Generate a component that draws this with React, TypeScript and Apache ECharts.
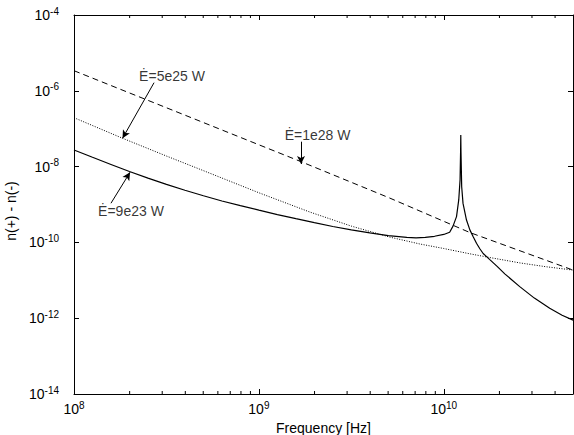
import React, { useEffect, useRef } from "react";
import * as echarts from "echarts";

const FONT = "'Liberation Sans', Arial, Helvetica, sans-serif";

const X_MIN = 1e8;
const X_MAX = 5e10;
const Y_MIN = 1e-14;
const Y_MAX = 1e-4;

// Solid curve: E-dot = 9e23 W (frequency in Hz)
const solidFreq = [
  1e8, 1.259e8, 1.585e8, 1.995e8, 2.512e8, 3.162e8, 3.981e8, 5.012e8, 6.31e8, 7.943e8,
  1e9, 1.259e9, 1.585e9, 1.995e9, 2.512e9, 3.162e9, 3.981e9, 5.012e9, 6.31e9, 7.079e9,
  7.943e9, 8.913e9, 1e10, 1.076e10, 1.122e10, 1.172e10, 1.205e10, 1.225e10, 1.233e10,
  1.236e10, 1.239e10, 1.25e10, 1.271e10, 1.327e10, 1.384e10, 1.445e10, 1.503e10, 1.567e10, 1.633e10, 1.774e10,
  1.95e10, 2.138e10, 2.576e10, 3.09e10, 3.741e10, 4.365e10, 5e10,
];
const solidValues = [
  2.75e-8, 1.76e-8, 1.14e-8, 7.41e-9, 4.95e-9, 3.39e-9, 2.37e-9, 1.7e-9, 1.24e-9, 9.33e-10,
  7.08e-10, 5.43e-10, 4.22e-10, 3.31e-10, 2.63e-10, 2.14e-10, 1.78e-10, 1.51e-10, 1.35e-10, 1.32e-10,
  1.35e-10, 1.45e-10, 1.62e-10, 1.86e-10, 2.69e-10, 4.79e-10, 1.32e-9, 4.47e-9, 2.5e-8,
  6.8e-8, 2.5e-8, 2.95e-9, 1.07e-9, 3.89e-10, 2.14e-10, 1.38e-10, 9.5e-11, 6.8e-11, 5.1e-11, 3.5e-11,
  2.3e-11, 1.48e-11, 6.8e-12, 3.39e-12, 1.82e-12, 1.2e-12, 8.9e-13,
];

// Dotted curve: E-dot = 5e25 W
const dottedFreq = [1e8, 1.83e8, 3.162e8, 4.8e8, 1e9, 1.89e9, 3.162e9, 5.1e9, 7.41e9, 1e10, 1.384e10, 1.778e10, 2.576e10, 3.548e10, 5e10];
const dottedValues = [1.95e-7, 5.6e-8, 1.9e-8, 8.5e-9, 2.04e-9, 6.3e-10, 2.69e-10, 1.38e-10, 9.1e-11, 6.9e-11, 5.0e-11, 3.98e-11, 2.88e-11, 2.29e-11, 1.86e-11];

// Dashed curve: E-dot = 1e28 W
const dashedFreq = [1e8, 4.8e8, 1.69e9, 5.1e9, 1.384e10, 5e10];
const dashedValues = [3.39e-6, 1.58e-7, 1.35e-8, 1.48e-9, 1.82e-10, 1.86e-11];

// Minor tick positions on the frequency axis
const xMinorTicks = [
  2e8, 3e8, 4e8, 5e8, 6e8, 7e8, 8e8, 9e8,
  2e9, 3e9, 4e9, 5e9, 6e9, 7e9, 8e9, 9e9,
  2e10, 3e10, 4e10,
];

// Annotations
const annotationTexts = ["Ė=9e23 W", "Ė=5e25 W", "Ė=1e28 W"];
const annotationAnchors = [
  [1.35e8, 6.86e-10],
  [2.25e8, 2.45e-6],
  [1.38e9, 6.82e-8],
];
const arrowStarts = [
  [1.585e8, 1.08e-9],
  [2.71e8, 1.64e-6],
  [1.69e9, 4.54e-8],
];
const arrowEnds = [
  [2.01e8, 7.08e-9],
  [1.83e8, 5.58e-8],
  [1.69e9, 1.17e-8],
];

const zip = (xs: number[], ys: number[]) => xs.map((x, i) => [x, ys[i]]);

const powerLabel = (v: number) => {
  const l = Math.log10(v);
  const e = Math.round(l);
  if (Math.abs(l - e) > 1e-6) return "";
  return `{b|10}{s|${e}}`;
};

const labelRich = {
  b: { fontSize: 14, fontFamily: FONT, color: "#000" },
  s: { fontSize: 10, fontFamily: FONT, color: "#000", verticalAlign: "bottom", padding: [0, 0, 8, 0] },
};

export default function App() {
  const ref = useRef<HTMLDivElement>(null);
  useEffect(() => {
    if (!ref.current) return;
    const chart = echarts.init(ref.current, undefined, { renderer: "svg" });
    const axisLine = { show: true, lineStyle: { color: "#000", width: 1 } };
    const option: any = {
      animation: false,
      backgroundColor: "#fff",
      textStyle: { fontFamily: FONT, color: "#000" },
      grid: { left: 74, right: 1, top: 15, bottom: 41, containLabel: false, outerBoundsMode: "none" },
      xAxis: [
        {
          type: "log",
          logBase: 10,
          min: X_MIN,
          max: X_MAX,
          position: "bottom",
          name: "Frequency [Hz]",
          nameLocation: "middle",
          nameGap: 21,
          nameTextStyle: { fontSize: 14, fontFamily: FONT, color: "#000" },
          axisLine,
          axisTick: { show: true, inside: true, length: 5, lineStyle: { color: "#000" } },
          axisLabel: { show: true, margin: 6, formatter: powerLabel, rich: labelRich, showMaxLabel: false },
          splitLine: { show: false },
        },
        {
          type: "log",
          logBase: 10,
          min: X_MIN,
          max: X_MAX,
          position: "top",
          axisLine,
          axisTick: { show: true, inside: true, length: 5, lineStyle: { color: "#000" } },
          axisLabel: { show: false },
          splitLine: { show: false },
        },
      ],
      yAxis: [
        {
          type: "log",
          logBase: 10,
          min: Y_MIN,
          max: Y_MAX,
          interval: 2,
          position: "left",
          name: "n(+) - n(-)",
          nameLocation: "middle",
          nameGap: 50,
          nameRotate: 90,
          nameTextStyle: { fontSize: 14, fontFamily: FONT, color: "#000", padding: [0, 13, 0, 0] },
          axisLine,
          axisTick: { show: true, inside: true, length: 5, lineStyle: { color: "#000" } },
          axisLabel: { show: true, margin: 15, formatter: powerLabel, rich: labelRich },
          splitLine: { show: false },
        },
        {
          type: "log",
          logBase: 10,
          min: Y_MIN,
          max: Y_MAX,
          interval: 2,
          position: "right",
          axisLine,
          axisTick: { show: true, inside: true, length: 5, lineStyle: { color: "#000" } },
          axisLabel: { show: false },
          splitLine: { show: false },
        },
      ],
      series: [
        {
          type: "custom",
          xAxisIndex: 0,
          yAxisIndex: 0,
          silent: true,
          clip: false,
          z: 10,
          data: xMinorTicks.map((v) => [v, Y_MIN]),
          renderItem: (_p: any, api: any) => {
            const x = api.value(0);
            const b = api.coord([x, Y_MIN]);
            const t = api.coord([x, Y_MAX]);
            return {
              type: "group",
              children: [
                { type: "line", shape: { x1: b[0], y1: b[1], x2: b[0], y2: b[1] - 3 }, style: { stroke: "#000", lineWidth: 1 } },
                { type: "line", shape: { x1: t[0], y1: t[1], x2: t[0], y2: t[1] + 3 }, style: { stroke: "#000", lineWidth: 1 } },
              ],
            };
          },
        },
        {
          name: "Ė=1e28 W",
          type: "line",
          data: zip(dashedFreq, dashedValues),
          showSymbol: false,
          symbol: "none",
          lineStyle: { color: "#000", width: 1, type: [6, 4] },
        },
        {
          name: "Ė=5e25 W",
          type: "line",
          data: zip(dottedFreq, dottedValues),
          showSymbol: false,
          symbol: "none",
          lineStyle: { color: "#000", width: 1, type: [1, 1.5] },
        },
        {
          name: "Ė=9e23 W",
          type: "line",
          data: zip(solidFreq, solidValues),
          showSymbol: false,
          symbol: "none",
          lineStyle: { color: "#000", width: 1.2, type: "solid" },
        },
        {
          type: "scatter",
          symbolSize: 0,
          silent: true,
          data: annotationAnchors.map((a, i) => ({ value: a, name: annotationTexts[i] })),
          label: {
            show: true,
            position: "right",
            distance: 0,
            formatter: (p: any) => p.name,
            fontSize: 14,
            fontFamily: FONT,
            color: "#000",
          },
          markLine: {
            silent: true,
            symbol: ["none", "arrow"],
            symbolSize: [6, 8],
            label: { show: false },
            lineStyle: { color: "#000", width: 1, type: "solid" },
            data: arrowStarts.map((s, i) => [{ coord: s }, { coord: arrowEnds[i] }]),
          },
        },
      ],
    };
    chart.setOption(option);
    return () => chart.dispose();
  }, []);
  return <div ref={ref} style={{ position: "absolute", left: 0, top: 0, width: 574, height: 435 }} />;
}
